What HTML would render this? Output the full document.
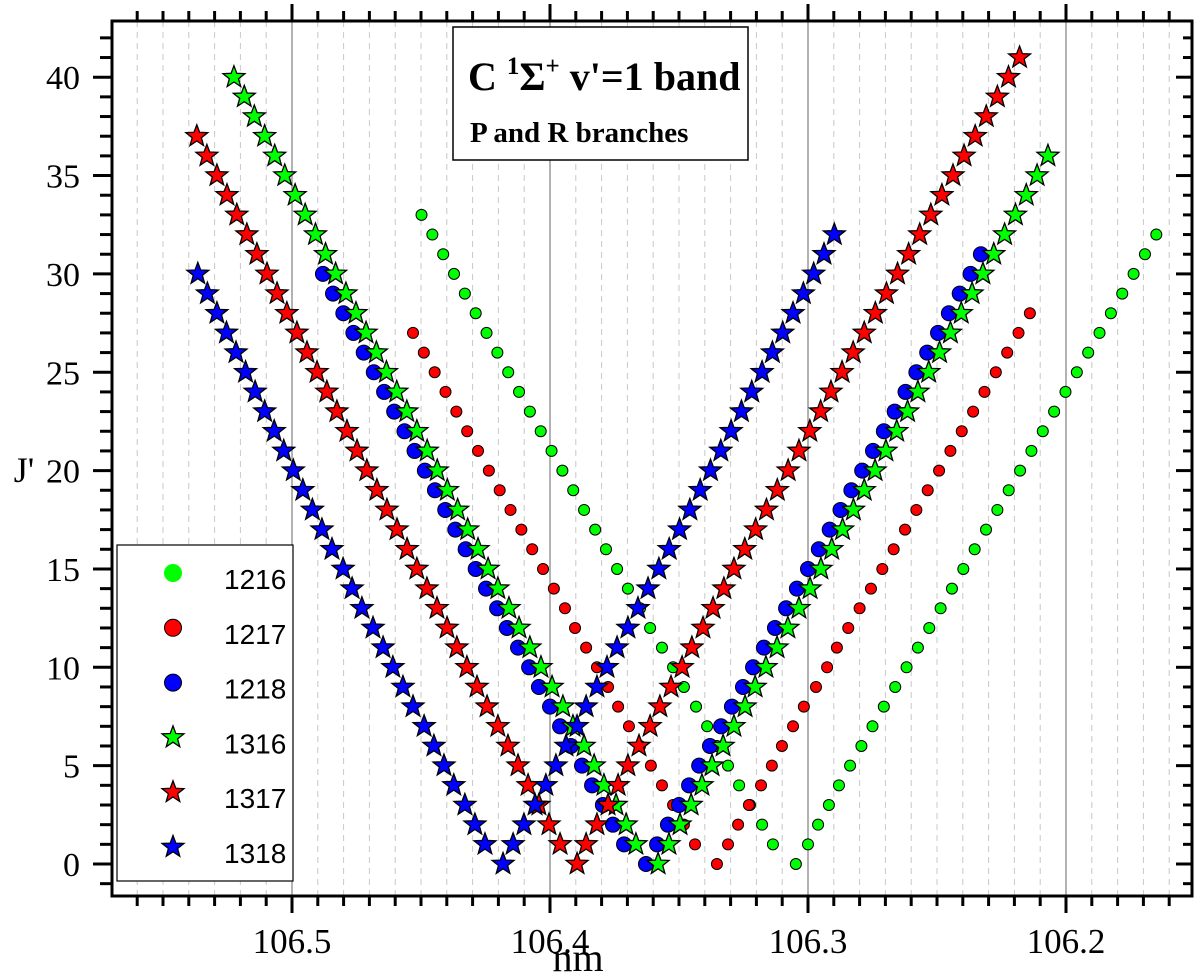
<!DOCTYPE html>
<html><head><meta charset="utf-8"><style>
html,body{margin:0;padding:0;background:#fff;}
svg{display:block;}
</style></head><body>
<svg id="chart" width="1200" height="973" viewBox="0 0 1200 973" xmlns="http://www.w3.org/2000/svg">
<g id="grid"></g>
<g id="axes"></g>
<g id="marks"></g>
<g>
<rect x="453" y="27" width="295" height="133" fill="#fff" stroke="#000" stroke-width="1.5"/>
<text x="468" y="90" font-family="Liberation Serif, serif" font-weight="bold" font-size="40">C <tspan font-size="25" dy="-16">1</tspan><tspan dy="16">Σ</tspan><tspan font-size="25" dy="-16">+</tspan><tspan dy="16"> v'=1 band</tspan></text>
<text x="470" y="142" font-family="Liberation Serif, serif" font-weight="bold" font-size="29">P and R branches</text>
</g>
<g id="legend">
<rect x="117" y="545" width="176" height="336" fill="#fff" stroke="#000" stroke-width="1.2"/>
</g>
<text x="24" y="482" font-family="Liberation Serif, serif" font-size="36" text-anchor="middle">J'</text>
<text x="578" y="971" font-family="Liberation Serif, serif" font-size="40" text-anchor="middle">nm</text>
</svg>
<script>
// ---- data (J' values and wavelengths in nm) ----
const seriesNames = ["1216","1217","1218","1316","1317","1318"];
const seriesColors = ["#00ff00","#ff0000","#0000ff","#00ff00","#ff0000","#0000ff"];
const seriesShapes = ["circle","circle","circleL","star","star","star"];

// 1216
const s1216_leftJ = [0,1,2,3,4,5,6,7,8,9,10,11,12,13,14,15,16,17,18,19,20,21,22,23,24,25,26,27,28,29,30,31,32,33];
const s1216_leftNm = [106.3047,106.3136,106.3178,106.3225,106.3267,106.3310,106.3353,106.3391,106.3434,106.3481,106.3523,106.3566,106.3612,106.3651,106.3698,106.3740,106.3783,106.3825,106.3868,106.3910,106.3952,106.3994,106.4036,106.4078,106.4120,106.4162,106.4204,106.4246,106.4288,106.4330,106.4372,106.4414,106.4456,106.4498];
const s1216_rightJ = [1,2,3,4,5,6,7,8,9,10,11,12,13,14,15,16,17,18,19,20,21,22,23,24,25,26,27,28,29,30,31,32];
const s1216_rightNm = [106.3000,106.2961,106.2919,106.2880,106.2837,106.2793,106.2750,106.2706,106.2662,106.2618,106.2574,106.2530,106.2486,106.2442,106.2398,106.2354,106.2310,106.2266,106.2222,106.2178,106.2134,106.2090,106.2046,106.2002,106.1958,106.1914,106.1870,106.1826,106.1782,106.1738,106.1694,106.1650];

// 1217
const s1217_leftJ = [0,1,2,3,4,5,6,7,8,9,10,11,12,13,14,15,16,17,18,19,20,21,22,23,24,25,26,27];
const s1217_leftNm = [106.3353,106.3438,106.3481,106.3523,106.3566,106.3609,106.3651,106.3694,106.3736,106.3775,106.3818,106.3860,106.3903,106.3942,106.3985,106.4027,106.4069,106.4111,106.4153,106.4195,106.4237,106.4279,106.4321,106.4363,106.4405,106.4447,106.4489,106.4531];
const s1217_rightJ = [1,2,3,4,5,6,7,8,9,10,11,12,13,14,15,16,17,18,19,20,21,22,23,24,25,26,27,28];
const s1217_rightNm = [106.3310,106.3271,106.3229,106.3182,106.3140,106.3101,106.3058,106.3016,106.2969,106.2926,106.2888,106.2844,106.2800,106.2756,106.2712,106.2668,106.2624,106.2580,106.2536,106.2492,106.2448,106.2404,106.2360,106.2316,106.2272,106.2228,106.2184,106.2140];

// 1218
const s1218_leftJ = [0,1,2,3,4,5,6,7,8,9,10,11,12,13,14,15,16,17,18,19,20,21,22,23,24,25,26,27,28,29,30];
const s1218_leftNm = [106.3628,106.3713,106.3756,106.3795,106.3837,106.3876,106.3919,106.3961,106.4000,106.4043,106.4081,106.4124,106.4167,106.4205,106.4248,106.4288,106.4327,106.4367,106.4406,106.4446,106.4485,106.4525,106.4564,106.4604,106.4643,106.4683,106.4722,106.4762,106.4801,106.4841,106.4880];
const s1218_rightJ = [1,2,3,4,5,6,7,8,9,10,11,12,13,14,15,16,17,18,19,20,21,22,23,24,25,26,27,28,29,30,31];
const s1218_rightNm = [106.3585,106.3543,106.3500,106.3461,106.3422,106.3380,106.3337,106.3295,106.3252,106.3213,106.3171,106.3128,106.3085,106.3043,106.3000,106.2958,106.2916,106.2874,106.2832,106.2790,106.2748,106.2706,106.2664,106.2622,106.2580,106.2538,106.2496,106.2454,106.2412,106.2370,106.2330];

// 1316
const s1316_leftJ = [0,1,2,3,4,5,6,7,8,9,10,11,12,13,14,15,16,17,18,19,20,21,22,23,24,25,26,27,28,29,30,31,32,33,34,35,36,37,38,39,40];
const s1316_leftNm = [106.3581,106.3667,106.3705,106.3744,106.3791,106.3829,106.3868,106.3911,106.3950,106.3992,106.4035,106.4078,106.4120,106.4159,106.4202,106.4240,106.4279,106.4319,106.4358,106.4398,106.4437,106.4476,106.4516,106.4555,106.4594,106.4634,106.4673,106.4713,106.4752,106.4791,106.4831,106.4870,106.4909,106.4949,106.4988,106.5028,106.5067,106.5106,106.5146,106.5185,106.5225];
const s1316_rightJ = [1,2,3,4,5,6,7,8,9,10,11,12,13,14,15,16,17,18,19,20,21,22,23,24,25,26,27,28,29,30,31,32,33,34,35,36];
const s1316_rightNm = [106.3539,106.3496,106.3453,106.3411,106.3372,106.3329,106.3287,106.3244,106.3205,106.3163,106.3120,106.3078,106.3035,106.2992,106.2950,106.2908,106.2866,106.2824,106.2782,106.2740,106.2698,106.2656,106.2614,106.2574,106.2532,106.2490,106.2448,106.2406,106.2364,106.2322,106.2280,106.2238,106.2196,106.2154,106.2112,106.2070];

// 1317
const s1317_leftJ = [0,1,2,3,4,5,6,7,8,9,10,11,12,13,14,15,16,17,18,19,20,21,22,23,24,25,26,27,28,29,30,31,32,33,34,35,36,37];
const s1317_leftNm = [106.3895,106.3961,106.4004,106.4043,106.4085,106.4124,106.4163,106.4202,106.4244,106.4283,106.4322,106.4361,106.4399,106.4438,106.4477,106.4516,106.4554,106.4593,106.4632,106.4671,106.4710,106.4748,106.4787,106.4826,106.4865,106.4903,106.4942,106.4981,106.5020,106.5058,106.5097,106.5136,106.5175,106.5214,106.5252,106.5291,106.5330,106.5369];
const s1317_rightJ = [1,2,3,4,5,6,7,8,9,10,11,12,13,14,15,16,17,18,19,20,21,22,23,24,25,26,27,28,29,30,31,32,33,34,35,36,37,38,39,40,41];
const s1317_rightNm = [106.3860,106.3818,106.3775,106.3736,106.3698,106.3655,106.3612,106.3574,106.3531,106.3488,106.3450,106.3407,106.3368,106.3326,106.3287,106.3245,106.3203,106.3161,106.3119,106.3077,106.3035,106.2993,106.2951,106.2911,106.2868,106.2825,106.2782,106.2739,106.2696,106.2653,106.2610,106.2567,106.2524,106.2481,106.2438,106.2395,106.2352,106.2309,106.2266,106.2223,106.2180];

// 1318
const s1318_leftJ = [0,1,2,3,4,5,6,7,8,9,10,11,12,13,14,15,16,17,18,19,20,21,22,23,24,25,26,27,28,29,30];
const s1318_leftNm = [106.4182,106.4252,106.4291,106.4330,106.4373,106.4411,106.4450,106.4488,106.4531,106.4570,106.4609,106.4647,106.4686,106.4729,106.4767,106.4802,106.4845,106.4884,106.4921,106.4958,106.4995,106.5032,106.5069,106.5106,106.5143,106.5180,106.5217,106.5254,106.5291,106.5328,106.5365];
const s1318_rightJ = [1,2,3,4,5,6,7,8,9,10,11,12,13,14,15,16,17,18,19,20,21,22,23,24,25,26,27,28,29,30,31,32];
const s1318_rightNm = [106.4143,106.4101,106.4058,106.4016,106.3977,106.3938,106.3895,106.3860,106.3818,106.3779,106.3740,106.3698,106.3659,106.3620,106.3578,106.3538,106.3498,106.3458,106.3418,106.3378,106.3338,106.3298,106.3258,106.3218,106.3178,106.3138,106.3098,106.3058,106.3018,106.2978,106.2938,106.2898];

const xTickLabels = ["106.5","106.4","106.3","106.2"];
const yTickLabels = ["0","5","10","15","20","25","30","35","40"];

const seriesJ = [
  [s1216_leftJ, s1216_rightJ],[s1217_leftJ, s1217_rightJ],[s1218_leftJ, s1218_rightJ],
  [s1316_leftJ, s1316_rightJ],[s1317_leftJ, s1317_rightJ],[s1318_leftJ, s1318_rightJ]];
const seriesNm = [
  [s1216_leftNm, s1216_rightNm],[s1217_leftNm, s1217_rightNm],[s1218_leftNm, s1218_rightNm],
  [s1316_leftNm, s1316_rightNm],[s1317_leftNm, s1317_rightNm],[s1318_leftNm, s1318_rightNm]];

// ---- axes geometry ----
const PL = 112, PR = 1192, PT = 21, PB = 896;
function xScale(nm){ return 292 + (106.5 - nm) * 2580; }
function yScale(j){ return 864 - j * 19.67; }
const NS = "http://www.w3.org/2000/svg";
function mk(tag, attrs, parent){
  const e = document.createElementNS(NS, tag);
  for (const k in attrs) e.setAttribute(k, attrs[k]);
  parent.appendChild(e);
  return e;
}
const grid = document.getElementById('grid');
const axes = document.getElementById('axes');
const marks = document.getElementById('marks');
const legend = document.getElementById('legend');

for (let i = -7; i <= 35; i++) {
  const nm = 106.5 - i * 0.01;
  const x = xScale(nm);
  if (x < PL + 1 || x > PR - 1) continue;
  const major = (i % 10 === 0);
  const l = mk('line', {x1:x, x2:x, y1:PT, y2:PB, stroke: major ? '#999' : '#c8c8c8', 'stroke-width': major ? 1.5 : 1, 'stroke-dasharray': major ? '' : '6,5'}, grid);
  
  
}

const frame = mk('rect', {x:PL, y:PT, width:PR-PL, height:PB-PT, fill:'none', stroke:'#000', 'stroke-width':3}, axes);



for (let i = -7; i <= 35; i++) {
  const nm = 106.5 - i * 0.01;
  const x = xScale(nm);
  if (x < PL || x > PR) continue;
  const major = (i % 10 === 0);
  const b = mk('line', {x1:x, x2:x, y1:PB, y2:PB + (major ? 17 : 10), stroke:'#000', 'stroke-width':3}, axes);
  
  
  const t = mk('line', {x1:x, x2:x, y1:PT, y2:PT - (major ? 17 : 10), stroke:'#000', 'stroke-width':3}, axes);
  
  
}
xTickLabels.forEach(function(lab){
  const tx = mk('text', {x: xScale(parseFloat(lab)), y: 953, 'text-anchor':'middle', 'font-family':'Liberation Serif, serif', 'font-size':35}, axes);
  tx.textContent = lab;
  
  
});

for (let j = -1; j <= 42; j++) {
  const y = yScale(j);
  if (y < PT || y > PB) continue;
  const major = (j % 5 === 0);
  const l = mk('line', {x1:PL - (major ? 19 : 12), x2:PL, y1:y, y2:y, stroke:'#000', 'stroke-width':3}, axes);
  
  
  const r = mk('line', {x1:PR - (major ? 16 : 9), x2:PR, y1:y, y2:y, stroke:'#000', 'stroke-width':3}, axes);
  
  
}
yTickLabels.forEach(function(lab){
  const ty = mk('text', {x: 80, y: yScale(parseFloat(lab)) + 12, 'text-anchor':'end', 'font-family':'Liberation Serif, serif', 'font-size':34}, axes);
  ty.textContent = lab;
  
  
});

function starPath(cx, cy, R, r){
  let d = '';
  for (let k = 0; k < 10; k++) {
    const rad = (k % 2 === 0) ? R : r;
    const a = -Math.PI/2 + k * Math.PI/5;
    d += (k === 0 ? 'M' : 'L') + (cx + rad*Math.cos(a)).toFixed(2) + ',' + (cy + rad*Math.sin(a)).toFixed(2);
  }
  return d + 'Z';
}
function drawMarker(shape, color, cx, cy, parent){
  let e;
  if (shape === 'star') {
    e = mk('path', {d: starPath(cx, cy, 11.5, 4.8), fill: color, stroke:'#000', 'stroke-width':1.3, 'stroke-linejoin':'miter'}, parent);
  } else {
    e = mk('circle', {cx:cx, cy:cy, r: shape === 'circleL' ? 7.5 : 5.5, fill: color, stroke:'#000', 'stroke-width':1}, parent);
  }
  return e;
}
for (let s = 0; s < seriesNames.length; s++) {
  const g = mk('g', {}, marks);
  
  
  for (let b = 0; b < 2; b++) {
    const Js = seriesJ[s][b], Ns = seriesNm[s][b];
    for (let i = 0; i < Js.length; i++) {
      const m = drawMarker(seriesShapes[s], seriesColors[s], xScale(Ns[i]), yScale(Js[i]), g);
      
      
    }
  }
}

for (let s = 0; s < seriesNames.length; s++) {
  const y = 577 + s * 54.8;
  const lg = mk('g', {}, legend);
  
  
  const m = drawMarker(seriesShapes[s], seriesColors[s], 173, y - 4, lg);
  if (s === 0) { m.setAttribute('r', 9); m.setAttribute('stroke', 'none'); }
  if (s === 1 || s === 2) m.setAttribute('r', 8.5);
  
  
  const t = mk('text', {x: 224, y: y + 12, 'font-family':'Liberation Sans, sans-serif', 'font-size':28}, lg);
  t.textContent = seriesNames[s];
  
  
}
</script>
</body></html>
